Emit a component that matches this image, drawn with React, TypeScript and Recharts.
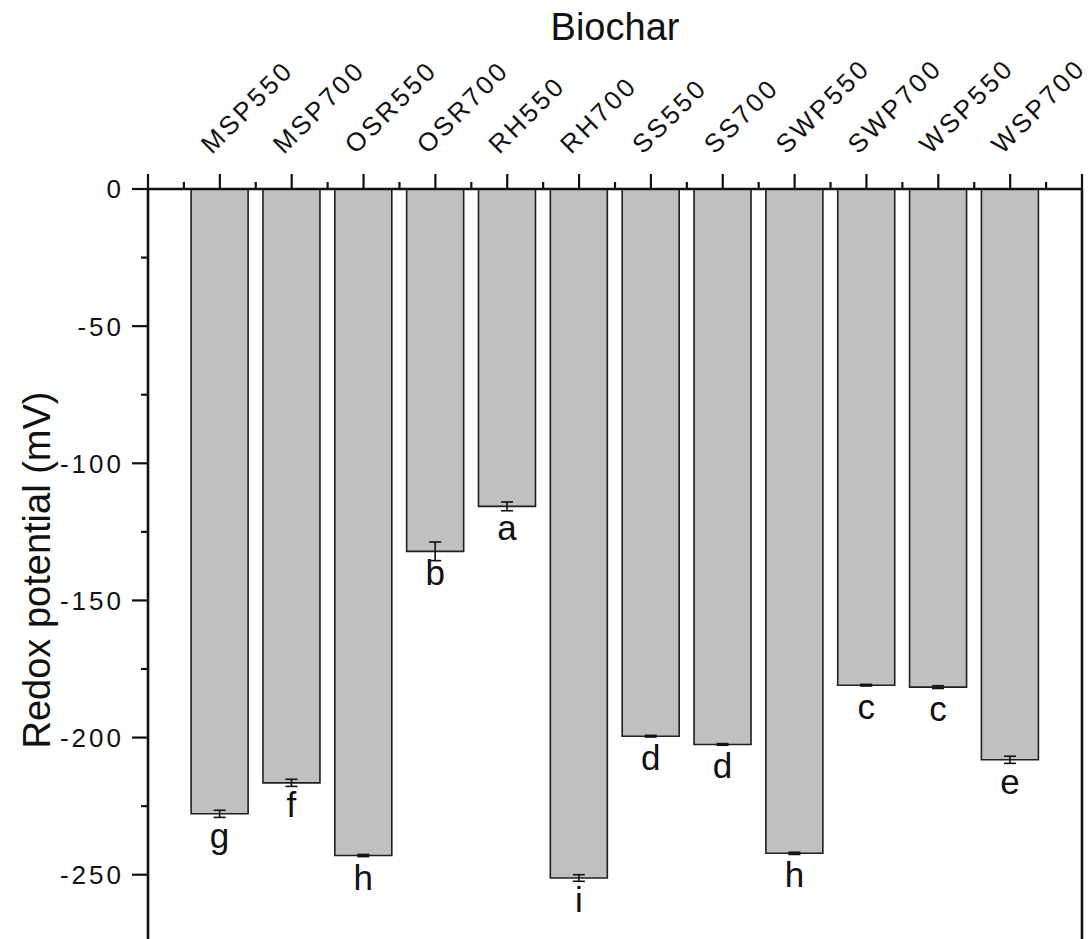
import { Bar, BarChart, ErrorBar, LabelList, XAxis, YAxis } from 'recharts'

const BIOCHARS = ['MSP550', 'MSP700', 'OSR550', 'OSR700', 'RH550', 'RH700', 'SS550', 'SS700', 'SWP550', 'SWP700', 'WSP550', 'WSP700']
const REDOX_MV = [-227.8, -216.5, -243.0, -132.1, -115.7, -251.2, -199.5, -202.5, -242.2, -180.9, -181.6, -208.1]
const REDOX_SD = [1.3, 1.3, 0.4, 3.4, 1.6, 1.2, 0.3, 0.3, 0.4, 0.3, 0.5, 1.3]
const GROUPS = ['g', 'f', 'h', 'b', 'a', 'i', 'd', 'd', 'h', 'c', 'c', 'e']

const Y_TICKS = [0, -25, -50, -75, -100, -125, -150, -175, -200, -225, -250, -275]

const FONT = 'Arial, "Liberation Sans", sans-serif'
const INK = '#111'

const WIDTH = 1090
const HEIGHT = 957
const PLOT_LEFT = 148
const PLOT_RIGHT = 1082
const TOP_AXIS_H = 189
// one empty half-slot of padding on either side of the 12 bars
const SLOT = (PLOT_RIGHT - PLOT_LEFT) / 13

const data = BIOCHARS.map((name, i) => ({
  name,
  redox: REDOX_MV[i],
  sd: REDOX_SD[i],
  group: GROUPS[i],
}))

const tickLine = (x: number, y: number, len: number, key: string) => (
  <line key={key} x1={x} x2={x} y1={y} y2={y - len} stroke={INK} strokeWidth={2.2} />
)

// top axis: long tick on each bar, short tick between bars, rotated name
const BiocharTick = (props: { x?: number; y?: number; index?: number; payload?: { value: string } }) => {
  const x = Number(props.x)
  const y = Number(props.y)
  const i = props.index ?? 0
  const last = i === BIOCHARS.length - 1
  return (
    <g>
      {tickLine(x, y, 15, 'major')}
      {tickLine(x - SLOT / 2, y, 7, 'minor')}
      {i === 0 && tickLine(x - SLOT, y, 15, 'start')}
      {last && tickLine(x + SLOT / 2, y, 7, 'minor-end')}
      {last && tickLine(x + SLOT, y, 15, 'end')}
      <text
        transform={`translate(${x - 8},${y - 34}) rotate(-45)`}
        fontFamily={FONT}
        fontSize={26}
        letterSpacing={3}
        fill={INK}
        textAnchor="start"
      >
        {props.payload?.value}
      </text>
    </g>
  )
}

const RedoxTick = (props: { x?: number; y?: number; payload?: { value: number } }) => {
  const x = Number(props.x)
  const y = Number(props.y)
  const v = props.payload?.value ?? 0
  const major = v % 50 === 0
  return (
    <g>
      <line x1={x} x2={x - (major ? 16 : 7)} y1={y} y2={y} stroke={INK} strokeWidth={2.2} />
      {major && (
        <text
          x={x - 24}
          y={y}
          dy="0.36em"
          fontFamily={FONT}
          fontSize={26}
          letterSpacing={3}
          fill={INK}
          textAnchor="end"
        >
          {v}
        </text>
      )}
    </g>
  )
}

const renderGroup = (props: { x?: unknown; y?: unknown; width?: unknown; height?: unknown; value?: unknown }) => {
  const x = Number(props.x)
  const y = Number(props.y)
  const w = Number(props.width)
  const h = Number(props.height)
  if (!Number.isFinite(x) || !Number.isFinite(y)) return null
  const bottom = Math.max(y, y + h)
  return (
    <text x={x + w / 2} y={bottom + 34} textAnchor="middle" fontFamily={FONT} fontSize={35} fill={INK}>
      {String(props.value)}
    </text>
  )
}

export default function App() {
  return (
    <div style={{ position: 'fixed', left: 0, top: 0, width: WIDTH, height: 939, overflow: 'hidden', background: '#fff' }}>
      <BarChart
        width={WIDTH}
        height={HEIGHT}
        data={data}
        margin={{ top: 0, right: 0, left: 0, bottom: 0 }}
        barCategoryGap="10%"
      >
        <XAxis
          dataKey="name"
          type="category"
          orientation="top"
          interval={0}
          padding={{ left: SLOT / 2, right: SLOT / 2 }}
          height={TOP_AXIS_H}
          tickSize={0}
          tickMargin={0}
          tickLine={false}
          tick={<BiocharTick />}
          axisLine={{ stroke: INK, strokeWidth: 2.6 }}
        />
        <YAxis
          yAxisId="left"
          type="number"
          domain={[-280, 0]}
          ticks={Y_TICKS}
          interval={0}
          allowDataOverflow
          width={PLOT_LEFT}
          tickSize={0}
          tickMargin={0}
          tickLine={false}
          tick={<RedoxTick />}
          axisLine={{ stroke: INK, strokeWidth: 2.6 }}
        />
        <YAxis
          yAxisId="right"
          orientation="right"
          type="number"
          domain={[-280, 0]}
          width={WIDTH - PLOT_RIGHT}
          tick={false}
          tickLine={false}
          axisLine={{ stroke: INK, strokeWidth: 2.6 }}
        />
        <Bar
          yAxisId="left"
          dataKey="redox"
          fill="#c0c0c0"
          stroke="#1f1f1f"
          strokeWidth={1.6}
          isAnimationActive={false}
        >
          <ErrorBar dataKey="sd" direction="y" width={6} stroke={INK} strokeWidth={1.6} />
          <LabelList dataKey="group" content={renderGroup} />
        </Bar>
        <text x={615} y={40} textAnchor="middle" fontFamily={FONT} fontSize={38} fill={INK}>
          Biochar
        </text>
        <text
          transform="translate(50,570) rotate(-90)"
          textAnchor="middle"
          fontFamily={FONT}
          fontSize={38}
          fill={INK}
        >
          Redox potential (mV)
        </text>
      </BarChart>
    </div>
  )
}
